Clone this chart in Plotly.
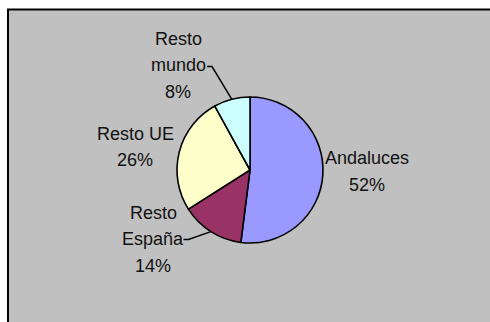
import math
import plotly.graph_objects as go

# Origin of visitors (share of total)
labels = ["Andaluces", "Resto España", "Resto UE", "Resto mundo"]
values = [52, 14, 26, 8]
colors = ["#9999FF", "#993366", "#FFFFCC", "#CCFFFF"]

# Text lines of each label (the percentage is appended below them)
label_lines = [["Andaluces"], ["Resto", "España"], ["Resto UE"], ["Resto", "mundo"]]

W, H = 490, 322
CX, CY, R = 250, 170, 73          # pie centre and radius, px
LINE_H = 26.5                     # label line spacing, px

# Label block centres (px) and where a leader line leaves the label (px)
label_pos = {
    "Andaluces": (367, 171.5),
    "Resto España": (153, 239),
    "Resto UE": (135, 147),
    "Resto mundo": (178, 65.5),
}
leader_start = {
    "Resto España": (183.5, 239.5),
    "Resto mundo": (207, 66.5),
}

FONT = "Liberation Sans, Arial, sans-serif"


def px(x, y):
    return x / W, 1 - y / H


fig = go.Figure(go.Pie(
    labels=labels,
    values=values,
    sort=False,
    direction="clockwise",
    rotation=0,
    marker=dict(colors=colors, line=dict(color="black", width=1.6)),
    textinfo="none",
    hoverinfo="label+percent",
    showlegend=False,
    domain=dict(x=[(CX - R) / W, (CX + R) / W],
                y=[1 - (CY + R) / H, 1 - (CY - R) / H]),
))

total = sum(values)
shapes = [
    # grey plot panel with black frame
    dict(type="rect", xref="paper", yref="paper",
         x0=8 / W, x1=1.05, y0=-0.05, y1=1 - 9.5 / H,
         fillcolor="#C0C0C0", line=dict(color="black", width=2), layer="below"),
]
annotations = []
cum = 0
for lab, lines, v in zip(labels, label_lines, values):
    share = v / total
    mid = (cum + share / 2) * 2 * math.pi     # clockwise from 12 o'clock
    cum += share
    pct = round(share * 100)
    rows = lines + [f"{pct}%"]
    lx, ly = label_pos[lab]
    top = ly - LINE_H * (len(rows) - 1) / 2
    for i, row in enumerate(rows):
        ax, ay = px(lx, top + i * LINE_H)
        annotations.append(dict(
            x=ax, y=ay, xref="paper", yref="paper",
            text=row, showarrow=False,
            xanchor="center", yanchor="middle", align="center",
            font=dict(family=FONT, size=18, color="#111111"),
        ))
    if lab in leader_start:
        sx, sy = leader_start[lab]
        ex = CX + R * math.sin(mid)
        ey = CY - R * math.cos(mid)
        kx = sx + 5
        x0, y0 = px(sx, sy)
        x1, y1 = px(kx, sy)
        x2, y2 = px(ex, ey)
        shapes.append(dict(
            type="path", xref="paper", yref="paper",
            path=f"M {x0} {y0} L {x1} {y1} L {x2} {y2}",
            line=dict(color="black", width=1.5),
        ))

fig.update_layout(
    width=W, height=H,
    margin=dict(l=0, r=0, t=0, b=0),
    paper_bgcolor="white",
    plot_bgcolor="white",
    shapes=shapes,
    annotations=annotations,
)

fig.write_html("out.html")
